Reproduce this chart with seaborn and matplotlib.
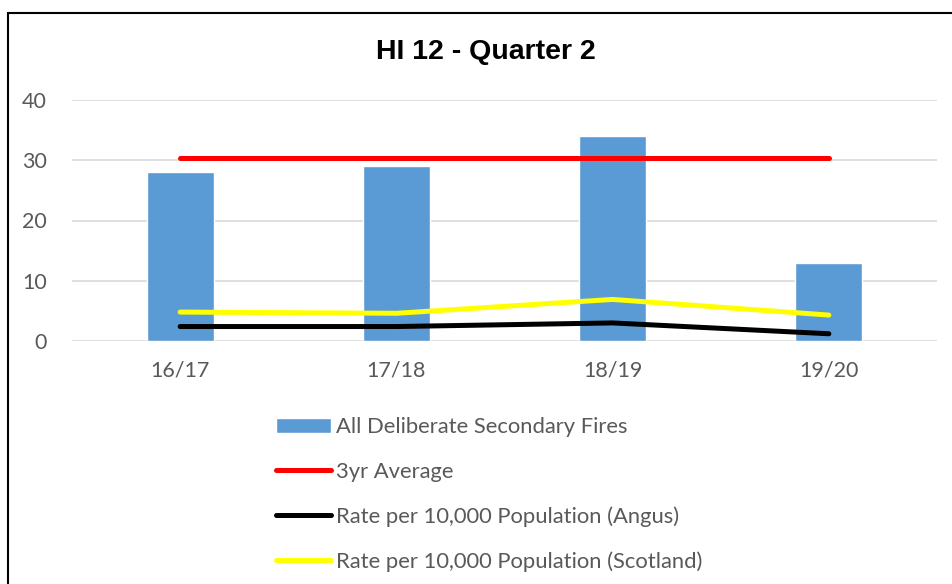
import pandas as pd
import matplotlib
matplotlib.use("Agg")
import matplotlib.pyplot as plt
import matplotlib.patches as patches
import seaborn as sns

# Chart values
seasons = ["16/17", "17/18", "18/19", "19/20"]
fires = [28, 29, 34, 13]
avg_3yr = [30.3, 30.3, 30.3, 30.3]
rate_angus = [2.4, 2.4, 3.0, 1.2]
rate_scotland = [4.8, 4.6, 6.9, 4.3]
yticks = [0, 10, 20, 30, 40]
legend_order = ["All Deliberate Secondary Fires", "3yr Average",
                "Rate per 10,000 Population (Angus)",
                "Rate per 10,000 Population (Scotland)"]

df = pd.DataFrame({
    "season": seasons,
    "pos": range(len(seasons)),
    "fires": fires,
    "avg": avg_3yr,
    "angus": rate_angus,
    "scotland": rate_scotland,
})

sns.set_style("white")
plt.rcParams["font.family"] = ["Lato", "DejaVu Sans"]

fig = plt.figure(figsize=(9.52, 5.84), dpi=100)
ax = fig.add_axes([72 / 952, 1 - 341 / 584, 865 / 952, 241 / 584])

sns.barplot(data=df, x="pos", y="fires", color="#5B9BD5", saturation=1,
            width=0.31, ax=ax, label=legend_order[0])
sns.lineplot(data=df, x="pos", y="avg", color="#FF0000", linewidth=3.6,
             ax=ax, label=legend_order[1])
sns.lineplot(data=df, x="pos", y="angus", color="#000000", linewidth=3.6,
             ax=ax, label=legend_order[2])
sns.lineplot(data=df, x="pos", y="scotland", color="#FFFF00", linewidth=3.6,
             ax=ax, label=legend_order[3])

ax.set_xlim(-0.5, len(seasons) - 0.5)
ax.set_ylim(0, 40)
ax.set_yticks(yticks)
ax.set_xticks(range(len(seasons)))
ax.set_xticklabels(seasons)
ax.set_xlabel("")
ax.set_ylabel("")
ax.yaxis.grid(True, color="#D9D9D9", linewidth=1.2)
ax.set_axisbelow(True)
for s in ax.spines.values():
    s.set_visible(False)
ax.tick_params(axis="both", length=0, labelsize=15.5, colors="#595959")
ax.tick_params(axis="y", pad=18)
ax.tick_params(axis="x", pad=14)

# move legend below the plot, bars first
handles, labels = ax.get_legend_handles_labels()
ax.get_legend().remove()
lookup = dict(zip(labels, handles))
fig.legend([lookup[l] for l in legend_order], legend_order, loc="upper left",
           bbox_to_anchor=(276 / 952, 1 - 417 / 584),
           frameon=False, fontsize=15.8, labelcolor="#595959",
           borderpad=0, borderaxespad=0, handlelength=2.5,
           handletextpad=0.25, labelspacing=1.12)

fig.text(486 / 952, 1 - 52 / 584, "HI 12 - Quarter 2", ha="center",
         va="center", fontsize=20.5, fontweight="bold", color="black",
         family=["Liberation Sans", "DejaVu Sans"])

# chart frame
fig.patches.append(patches.Rectangle((8 / 952, -0.05), 1.0, 1.05 - 13 / 584,
                                     transform=fig.transFigure, fill=False,
                                     edgecolor="black", linewidth=1.5))

fig.savefig("out.png", dpi=100)
